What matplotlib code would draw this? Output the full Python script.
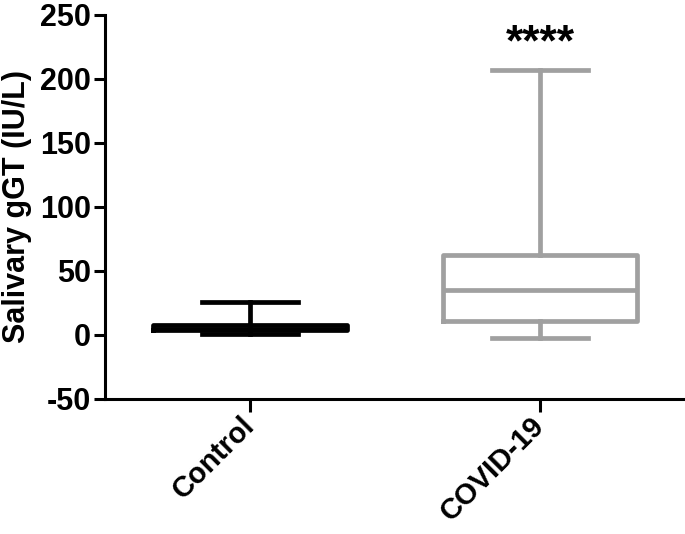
import matplotlib
matplotlib.use('Agg')
import matplotlib.pyplot as plt

plt.rcParams['font.family'] = ['Liberation Sans', 'DejaVu Sans']
plt.rcParams['font.weight'] = 'bold'
plt.rcParams['axes.unicode_minus'] = False

groups = ['Control', 'COVID-19']
whislo = [0.5, -2.5]
q1 = [3.5, 11]
med = [5, 35]
q3 = [7.5, 62.5]
whishi = [26, 207]
colors = ['#000000', '#a0a0a0']
signif = '****'
signif_y = 218

fig = plt.figure(figsize=(6.85, 5.34), dpi=100)
ax = fig.add_axes([0.153, 0.253, 0.847, 0.719])

for i, name in enumerate(groups):
    stats = [dict(label=name, whislo=whislo[i], q1=q1[i], med=med[i],
                  q3=q3[i], whishi=whishi[i], fliers=[])]
    c = colors[i]
    lp = dict(color=c, linewidth=3.4, solid_joinstyle='round')
    ax.bxp(stats, positions=[i], widths=0.67, capwidths=0.33,
           showfliers=False, boxprops=lp, medianprops=lp,
           whiskerprops=lp, capprops=lp)

ax.text(1, signif_y, signif, ha='center', va='baseline',
        fontsize=32, fontweight='bold')

ax.set_xlim(-0.5, 1.5)
ax.set_ylim(-50, 250)
ax.set_yticks(range(-50, 251, 50))
ax.set_xticks([0, 1])
ax.set_xticklabels(groups, rotation=45, ha='right', va='center',
                   rotation_mode='anchor', fontsize=21, fontweight='bold')
ax.tick_params(axis='y', labelsize=22, width=2.2, length=8, pad=2)
ax.tick_params(axis='x', width=2.2, length=9, pad=7)
for lab in ax.get_yticklabels():
    lab.set_fontweight('bold')

ax.spines['top'].set_visible(False)
ax.spines['right'].set_visible(False)
ax.spines['left'].set_linewidth(2.2)
ax.spines['bottom'].set_linewidth(2.2)

ax.set_ylabel('Salivary gGT (IU/L)', fontsize=22, fontweight='bold', labelpad=6)

fig.savefig('out.png', dpi=100)
